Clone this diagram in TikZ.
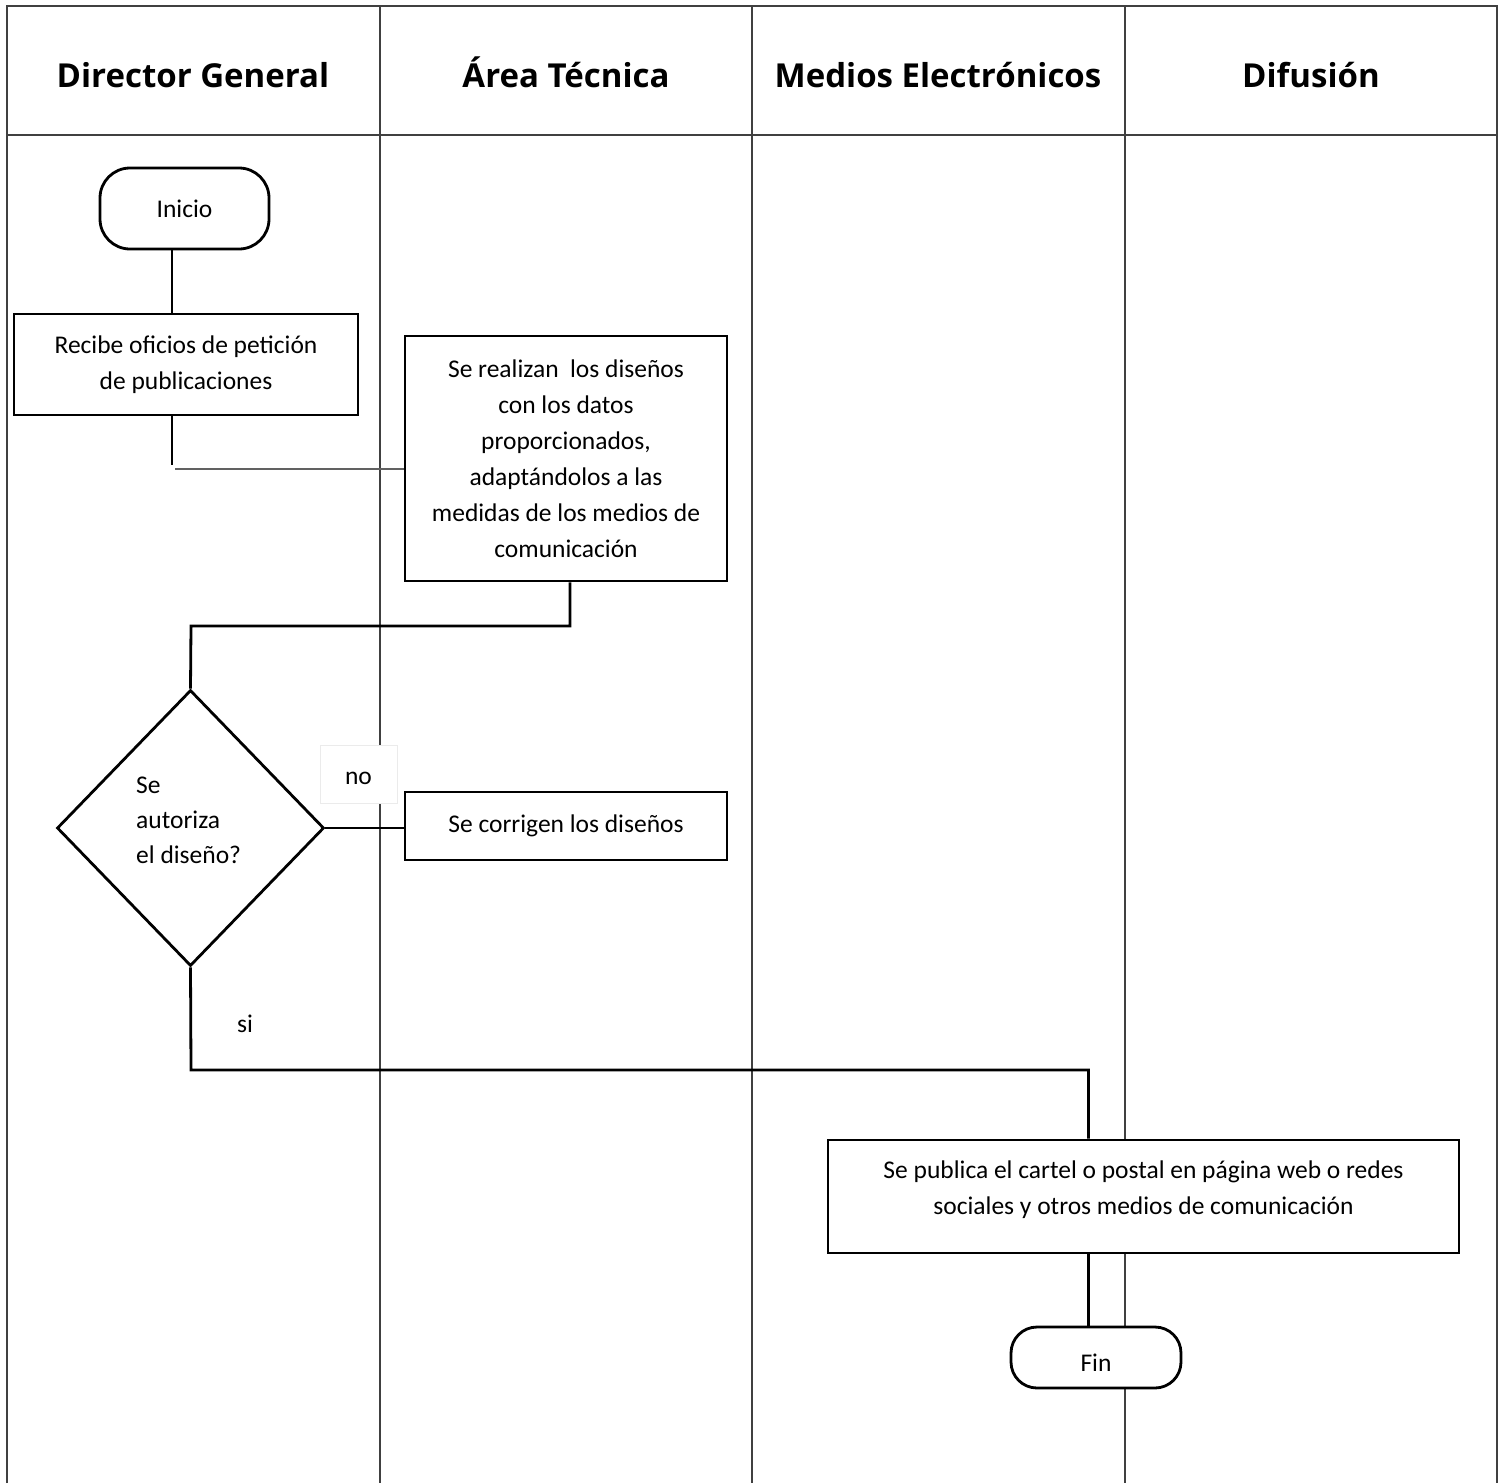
\documentclass[tikz,border=0pt]{standalone}
\usepackage{fontspec}
\setmainfont{Carlito}
\newfontfamily\headfont{Open Sans}
\usetikzlibrary{shapes.geometric}
\begin{document}
\begin{tikzpicture}[x=1pt,y=-1pt,
  grid/.style={draw=black!75,line width=1.7pt},
  conn/.style={draw=black,line width=2.8pt},
  gconn/.style={draw=black!62,line width=2.8pt},
  proc/.style={draw=black,line width=2.8pt,fill=white,inner sep=0pt,align=center,font=\fontsize{25.5}{36}\selectfont},
  term/.style={draw=black,line width=2.8pt,fill=white,rounded corners=30pt,inner sep=0pt,font=\fontsize{25.5}{36}\selectfont},
  dec/.style={diamond,draw=black,line width=2.8pt,fill=white,inner sep=0pt},
  head/.style={font=\headfont\bfseries\fontsize{33}{36}\selectfont,anchor=base},
  lbl/.style={font=\fontsize{25.5}{35}\selectfont}]
\useasboundingbox (0,0) rectangle (1506,1483);
% table
\draw[grid] (7,1483) -- (7,6) -- (1497,6) -- (1497,1483);
\draw[grid] (7,135) -- (1497,135);
\foreach \xx in {380,752,1125} \draw[grid] (\xx,6) -- (\xx,1483);
\node[head] (h1) at (193,87) {Director General};
\node[head] (h2) at (566,87) {Área Técnica};
\node[head] (h3) at (938,87) {Medios Electrónicos};
\node[head] (h4) at (1311,87) {Difusión};
% nodes
\node[term,minimum width=169pt,minimum height=81pt] (inicio) at (184.5,208.5) {Inicio};
\node[proc,minimum width=344pt,minimum height=101pt] (recibe) at (186,364.5) {Recibe oficios de petición\\de publicaciones};
\node[proc,minimum width=322pt,minimum height=245pt] (realiza) at (566,458.5) {Se realizan\ \ los diseños\\con los datos\\proporcionados,\\adaptándolos a las\\medidas de los medios de\\comunicación};
\node[dec,minimum width=267pt,minimum height=276pt] (dec) at (190.5,828) {};
\node[lbl,align=left,anchor=west,inner sep=0pt] (dectxt) at (136,820) {Se\\autoriza\\el diseño?};
\node[proc,minimum width=322pt,minimum height=68pt] (corrige) at (566,826) {Se corrigen los diseños};
\node[proc,minimum width=631pt,minimum height=113pt,text depth=18pt] (publica) at (1143.5,1196.5) {Se publica el cartel o postal en página web o redes\\sociales y otros medios de comunicación};
\node[term,minimum width=170pt,minimum height=61pt,rounded corners=26pt,text height=28pt] (fin) at (1096,1357.5) {Fin};
% labels
\node[lbl,fill=white,draw=black!8,line width=0.8pt,minimum width=77pt,minimum height=58pt,inner sep=0pt,text height=21pt] (no) at (358.5,774) {no};
\node[lbl] (si) at (245,1024) {si};
% connector coordinates
\coordinate (a1) at (172,465);
\coordinate (a2) at (175,469);
\coordinate (b1) at (570,626);
\coordinate (b2) at (191,626);
\coordinate (c1) at (191,1070);
\coordinate (c2) at (1088.5,1070);
% connectors
\draw[conn] (inicio.south -| 172,0) -- (recibe.north -| 172,0);
\draw[conn] (recibe.south -| a1) -- (a1);
\draw[gconn] (a2) -- (realiza.west |- a2);
\draw[conn] (realiza.south -| b1) -- (b1) -- (b2) -- (dec.north);
\draw[conn] (dec.east) -- (corrige.west |- dec.east);
\draw[conn] (dec.south) -- (c1) -- (c2) -- (publica.north -| c2);
\draw[conn] (publica.south -| c2) -- (fin.north -| c2);
\end{tikzpicture}
\end{document}
